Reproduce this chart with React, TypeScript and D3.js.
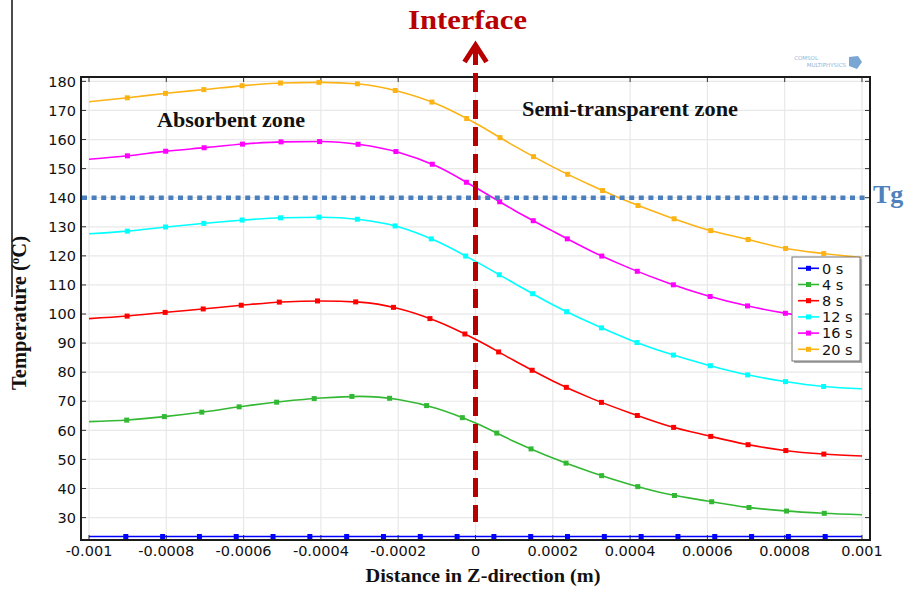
import React, { useEffect, useRef } from 'react'
import * as d3 from 'd3'

// distance in Z (m) where values were read
const zPositions = [
  -0.001, -0.0009, -0.0008, -0.0007, -0.0006, -0.0005, -0.0004, -0.0003, -0.0002, -0.0001, 0,
  0.0001, 0.0002, 0.0003, 0.0004, 0.0005, 0.0006, 0.0007, 0.0008, 0.0009, 0.001,
]

const t0s = [
  23.5, 23.5, 23.5, 23.5, 23.5, 23.5, 23.5, 23.5, 23.5, 23.5, 23.5, 23.5, 23.5, 23.5, 23.5, 23.5,
  23.5, 23.5, 23.5, 23.5, 23.5,
]
const t4s = [
  63.0, 63.55, 64.8, 66.4, 68.3, 69.9, 71.1, 71.7, 70.6, 67.5, 62.5, 56.2, 50.5, 45.6, 41.4, 38.0,
  35.7, 33.6, 32.3, 31.5, 31.0,
]
const t8s = [
  98.4, 99.3, 100.6, 101.8, 103.1, 104.15, 104.5, 104.1, 101.9, 97.5, 91.3, 84.0, 77.0, 71.0, 66.0,
  61.5, 58.2, 55.2, 53.1, 51.85, 51.2,
]
const t12s = [
  127.6, 128.5, 129.95, 131.2, 132.35, 133.1, 133.3, 132.5, 130.0, 125.0, 118.1, 110.6, 103.2, 96.8,
  91.1, 86.4, 82.5, 79.2, 76.8, 75.1, 74.3,
]
const t16s = [
  153.2, 154.4, 156.0, 157.2, 158.45, 159.2, 159.3, 158.3, 155.65, 150.8, 143.5, 135.7, 128.5, 121.6,
  115.7, 110.6, 106.3, 102.9, 100.3, 98.5, 97.2,
]
const t20s = [
  173.0, 174.35, 175.9, 177.2, 178.55, 179.45, 179.65, 179.1, 176.6, 172.2, 165.6, 157.8, 150.6,
  144.2, 138.4, 133.4, 129.0, 125.8, 122.6, 120.8, 119.4,
]

const seriesLabels = ['0 s', '4 s', '8 s', '12 s', '16 s', '20 s']
const seriesColors = ['#0000ff', '#33b833', '#ff0000', '#00ffff', '#ff00ff', '#fcb315']
const seriesValues = [t0s, t4s, t8s, t12s, t16s, t20s]

const xTicks = [-0.001, -0.0008, -0.0006, -0.0004, -0.0002, 0, 0.0002, 0.0004, 0.0006, 0.0008, 0.001]
const yTicks = [30, 40, 50, 60, 70, 80, 90, 100, 110, 120, 130, 140, 150, 160, 170, 180]
const tgValue = 140

const W = 904
const H = 589
const frame = { left: 81, top: 77, right: 870, bottom: 540 }
const markerCount = 20

const tickSans = 'DejaVu Sans, Verdana, sans-serif'
const serif = '"Liberation Serif", "Times New Roman", serif'

const fmtX = (d: number) => (d === 0 ? '0' : String(+d.toFixed(4)))

const App: React.FC = () => {
  const svgRef = useRef<SVGSVGElement>(null)

  useEffect(() => {
    if (!svgRef.current) return
    const svg = d3.select(svgRef.current)
    svg.selectAll('*').remove()

    const xScale = d3
      .scaleLinear()
      .domain([-0.0010207, 0.0010207])
      .range([frame.left, frame.right])
    const yScale = d3.scaleLinear().domain([22.3, 181.5]).range([frame.bottom, frame.top])

    // grid
    const grid = svg.append('g').attr('class', 'grid')
    grid
      .selectAll('line.gx')
      .data(xTicks)
      .enter()
      .append('line')
      .attr('x1', (d) => xScale(d))
      .attr('x2', (d) => xScale(d))
      .attr('y1', frame.top)
      .attr('y2', frame.bottom)
      .attr('stroke', '#e8e8e8')
      .attr('stroke-width', 1.2)
    grid
      .selectAll('line.gy')
      .data(yTicks)
      .enter()
      .append('line')
      .attr('x1', frame.left)
      .attr('x2', frame.right)
      .attr('y1', (d) => yScale(d))
      .attr('y2', (d) => yScale(d))
      .attr('stroke', '#e8e8e8')
      .attr('stroke-width', 1.2)

    // inner tick marks on all sides
    const ticks = svg.append('g').attr('stroke', '#333').attr('stroke-width', 1)
    yTicks.forEach((t) => {
      ticks.append('line').attr('x1', frame.left).attr('x2', frame.left + 5).attr('y1', yScale(t)).attr('y2', yScale(t))
      ticks.append('line').attr('x1', frame.right - 5).attr('x2', frame.right).attr('y1', yScale(t)).attr('y2', yScale(t))
    })
    xTicks.forEach((t) => {
      ticks.append('line').attr('x1', xScale(t)).attr('x2', xScale(t)).attr('y1', frame.top).attr('y2', frame.top + 5)
      ticks.append('line').attr('x1', xScale(t)).attr('x2', xScale(t)).attr('y1', frame.bottom - 5).attr('y2', frame.bottom)
    })

    // curves
    const line = d3
      .line<number>()
      .x((_, i) => xScale(zPositions[i]))
      .y((d) => yScale(d))
      .curve(d3.curveMonotoneX)

    const curveGroup = svg.append('g').attr('class', 'curves')
    seriesValues.forEach((vals, si) => {
      const path = curveGroup
        .append('path')
        .datum(vals)
        .attr('d', line)
        .attr('fill', 'none')
        .attr('stroke', seriesColors[si])
        .attr('stroke-width', 1.6)
      // markers spaced evenly along the arc length
      const node = path.node() as SVGPathElement
      const total = node.getTotalLength()
      for (let k = 1; k <= markerCount; k++) {
        const p = node.getPointAtLength((total * k) / (markerCount + 1))
        curveGroup
          .append('rect')
          .attr('x', p.x - 2.5)
          .attr('y', p.y - 2.5)
          .attr('width', 5)
          .attr('height', 5)
          .attr('fill', seriesColors[si])
      }
    })

    // Tg line
    svg
      .append('line')
      .attr('x1', frame.left + 1)
      .attr('x2', frame.right - 2)
      .attr('y1', yScale(tgValue))
      .attr('y2', yScale(tgValue))
      .attr('stroke', '#4a7ebd')
      .attr('stroke-width', 4.5)
      .attr('stroke-dasharray', '5 4.6')
    svg
      .append('text')
      .attr('x', 873)
      .attr('y', 203)
      .attr('font-family', serif)
      .attr('font-weight', 'bold')
      .attr('font-size', 26)
      .attr('fill', '#4f81bd')
      .text('Tg')

    // frame
    svg
      .append('rect')
      .attr('x', frame.left)
      .attr('y', frame.top)
      .attr('width', frame.right - frame.left)
      .attr('height', frame.bottom - frame.top)
      .attr('fill', 'none')
      .attr('stroke', '#1a1a1a')
      .attr('stroke-width', 2)

    // tick labels
    svg
      .append('g')
      .selectAll('text')
      .data(yTicks)
      .enter()
      .append('text')
      .attr('x', 76)
      .attr('y', (d) => yScale(d))
      .attr('dy', '0.36em')
      .attr('text-anchor', 'end')
      .attr('font-family', tickSans)
      .attr('font-size', 14.5)
      .attr('fill', '#111')
      .text((d) => d)
    svg
      .append('g')
      .selectAll('text')
      .data(xTicks)
      .enter()
      .append('text')
      .attr('x', (d) => xScale(d))
      .attr('y', 556)
      .attr('text-anchor', 'middle')
      .attr('font-family', tickSans)
      .attr('font-size', 14.5)
      .attr('fill', '#111')
      .text(fmtX)

    // axis titles
    svg
      .append('text')
      .attr('x', 483)
      .attr('y', 582)
      .attr('text-anchor', 'middle')
      .attr('font-family', serif)
      .attr('font-weight', 'bold')
      .attr('font-size', 19)
      .attr('textLength', 235)
      .attr('lengthAdjust', 'spacingAndGlyphs')
      .attr('fill', '#111')
      .text('Distance in Z-direction (m)')

    const yLabel = svg
      .append('text')
      .attr('transform', 'translate(26,313) rotate(-90)')
      .attr('text-anchor', 'middle')
      .attr('font-family', serif)
      .attr('font-weight', 'bold')
      .attr('font-size', 20.5)
      .attr('fill', '#111')
    yLabel.append('tspan').text('Temperature (')
    yLabel.append('tspan').attr('font-size', 13).attr('dy', -7).text('o')
    yLabel.append('tspan').attr('dy', 7).text('C)')
    svg
      .append('line')
      .attr('x1', 12)
      .attr('x2', 12)
      .attr('y1', 0)
      .attr('y2', 297)
      .attr('stroke', '#111')
      .attr('stroke-width', 1.5)

    // zone labels
    svg
      .append('text')
      .attr('x', 157)
      .attr('y', 127)
      .attr('font-family', serif)
      .attr('font-weight', 'bold')
      .attr('font-size', 21)
      .attr('textLength', 148)
      .attr('lengthAdjust', 'spacingAndGlyphs')
      .attr('fill', '#111')
      .text('Absorbent zone')
    svg
      .append('text')
      .attr('x', 522)
      .attr('y', 116)
      .attr('font-family', serif)
      .attr('font-weight', 'bold')
      .attr('font-size', 21)
      .attr('textLength', 216)
      .attr('lengthAdjust', 'spacingAndGlyphs')
      .attr('fill', '#111')
      .text('Semi-transparent zone')

    // interface line and arrow
    const xi = xScale(0)
    svg
      .append('line')
      .attr('x1', xi)
      .attr('x2', xi)
      .attr('y1', 46)
      .attr('y2', 522)
      .attr('stroke', '#b80000')
      .attr('stroke-width', 5)
      .attr('stroke-dasharray', '19 8')
    svg
      .append('path')
      .attr('d', `M${xi - 11},${62} L${xi},${45} L${xi + 11},${62}`)
      .attr('fill', 'none')
      .attr('stroke', '#b80000')
      .attr('stroke-width', 5)
    svg
      .append('text')
      .attr('x', 408)
      .attr('y', 29)
      .attr('font-family', serif)
      .attr('font-weight', 'bold')
      .attr('font-size', 27)
      .attr('textLength', 119)
      .attr('lengthAdjust', 'spacingAndGlyphs')
      .attr('fill', '#b80000')
      .text('Interface')

    // COMSOL watermark
    svg
      .append('text')
      .attr('x', 818)
      .attr('y', 60)
      .attr('text-anchor', 'end')
      .attr('font-family', tickSans)
      .attr('font-size', 5.5)
      .attr('fill', '#8fb3d9')
      .text('COMSOL')
    svg
      .append('text')
      .attr('x', 846)
      .attr('y', 67)
      .attr('text-anchor', 'end')
      .attr('font-family', tickSans)
      .attr('font-size', 5.5)
      .attr('fill', '#8fb3d9')
      .text('MULTIPHYSICS')
    svg
      .append('path')
      .attr('d', 'M849,57 L858,56 L862,62 L857,69 L849,66 Z')
      .attr('fill', '#7aa6d4')

    // legend
    const lg = { x: 792, y: 257, w: 68, h: 104 }
    svg
      .append('rect')
      .attr('x', lg.x + 2)
      .attr('y', lg.y + 2)
      .attr('width', lg.w)
      .attr('height', lg.h)
      .attr('fill', '#aaa')
    svg
      .append('rect')
      .attr('x', lg.x)
      .attr('y', lg.y)
      .attr('width', lg.w)
      .attr('height', lg.h)
      .attr('fill', '#fff')
      .attr('stroke', '#777')
      .attr('stroke-width', 1)
    seriesLabels.forEach((lab, i) => {
      const yy = 268.3 + i * 16.2
      svg
        .append('line')
        .attr('x1', 798)
        .attr('x2', 819)
        .attr('y1', yy)
        .attr('y2', yy)
        .attr('stroke', seriesColors[i])
        .attr('stroke-width', 1.6)
      svg
        .append('rect')
        .attr('x', 806)
        .attr('y', yy - 2.5)
        .attr('width', 5)
        .attr('height', 5)
        .attr('fill', seriesColors[i])
      svg
        .append('text')
        .attr('x', 822)
        .attr('y', yy)
        .attr('dy', '0.36em')
        .attr('font-family', tickSans)
        .attr('font-size', 14.5)
        .attr('fill', '#111')
        .text(lab)
    })
  }, [])

  return (
    <svg
      ref={svgRef}
      width={W}
      height={H}
      style={{ position: 'absolute', left: 0, top: 0, background: '#fff' }}
    />
  )
}

export default App
